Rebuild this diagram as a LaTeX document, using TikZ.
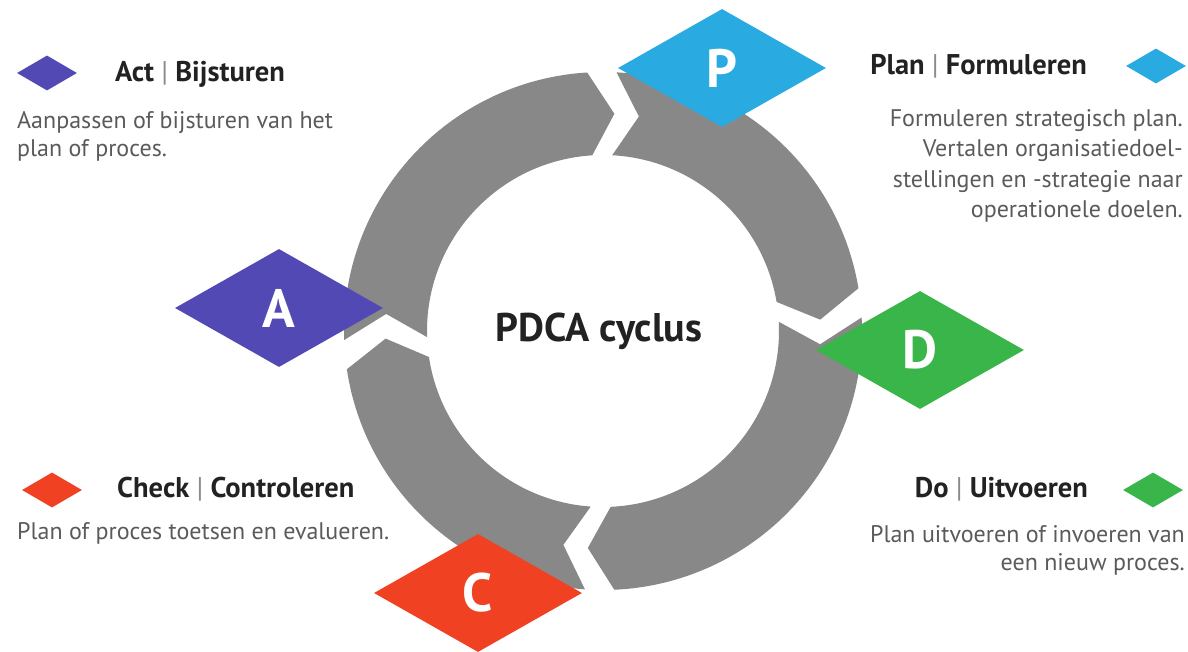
\documentclass[tikz,border=0pt]{standalone}
\usepackage{fontspec}
\setmainfont{PT Sans}
\usetikzlibrary{shapes.geometric}

\definecolor{planblue}{HTML}{29ABE2}
\definecolor{dogreen}{HTML}{39B54A}
\definecolor{checkred}{HTML}{F04123}
\definecolor{actpurple}{HTML}{5349B5}
\definecolor{ringgrey}{HTML}{888888}
\definecolor{titletext}{HTML}{222222}
\definecolor{bodytext}{HTML}{5A5A5A}

\tikzset{
	phase/.style={diamond, fill=#1, aspect=1.76, minimum width=208pt, minimum height=118pt, inner sep=0pt, text=white, font=\fontsize{54}{54}\selectfont\bfseries},
	legenddiamond/.style={diamond, fill=#1, aspect=1.7, minimum width=60pt, minimum height=35pt, inner sep=0pt},
	phasetitle/.style={inner sep=0pt, text=titletext, font=\fontsize{28.5}{30}\selectfont\bfseries},
	phasetext/.style={inner sep=0pt, text=bodytext, font=\fontsize{24}{28}\selectfont}
}

% one grey piece of the ring: tail angle, head angle
\newcommand{\ringpart}[2]{%
	\fill[ringgrey] (#1:259) arc[start angle=#1, end angle=#2+6.5, radius=259]
		-- (#2:217.5) -- ({#2+6.5}:176) arc[start angle=#2+6.5, end angle=#1, radius=176]
		-- ({#1-6.5}:217.5) -- cycle;}
\newcommand{\phasebar}{{\mdseries\color{bodytext!70}|}}

\begin{document}
\begin{tikzpicture}[x=1pt, y=1pt]

	\useasboundingbox (0,0) rectangle (1188,651);

	\begin{scope}[shift={(603,320)}]
		\ringpart{182}{87}
		\ringpart{87}{3}
		\ringpart{3}{-94}
		\ringpart{-94}{-178}
	\end{scope}

	\node[phase=planblue] (P) at (722,583) {P};
	\node[phase=dogreen] (D) at (920,301) {D};
	\node[phase=checkred] (C) at (478,58) {C};
	\node[phase=actpurple] (A) at (279,343) {A};

	\node[text=titletext, font=\fontsize{40}{40}\selectfont\bfseries, anchor=base] (cyclus) at (599,309) {PDCA cyclus};

	\node[legenddiamond=actpurple] (actmark) at (47,578) {};
	\node[phasetitle, anchor=base west] (acttitle) at (115,569) {Act \phasebar{} Bijsturen};
	\node[phasetext, anchor=north west, align=left] (acttext) at (17,540) {Aanpassen of bijsturen van het\\plan of proces.};

	\node[legenddiamond=planblue] (planmark) at (1156,585) {};
	\node[phasetitle, anchor=base east] (plantitle) at (1087,576) {Plan \phasebar{} Formuleren};
	\node[phasetext, anchor=north east, align=right, font=\fontsize{24}{30.5}\selectfont] (plantext) at (1183,542) {Formuleren strategisch plan.\\Vertalen organisatiedoel-\\stellingen en -strategie naar\\operationele doelen.};

	\node[legenddiamond=checkred] (checkmark) at (52,161) {};
	\node[phasetitle, anchor=base west] (checktitle) at (117,154) {Check \phasebar{} Controleren};
	\node[phasetext, anchor=base west] (checktext) at (17,112) {Plan of proces toetsen en evalueren.};

	\node[legenddiamond=dogreen] (domark) at (1153,161) {};
	\node[phasetitle, anchor=base east] (dotitle) at (1088,154) {Do \phasebar{} Uitvoeren};
	\node[phasetext, anchor=north east, align=right] (dotext) at (1185,126) {Plan uitvoeren of invoeren van\\een nieuw proces.};

\end{tikzpicture}
\end{document}
